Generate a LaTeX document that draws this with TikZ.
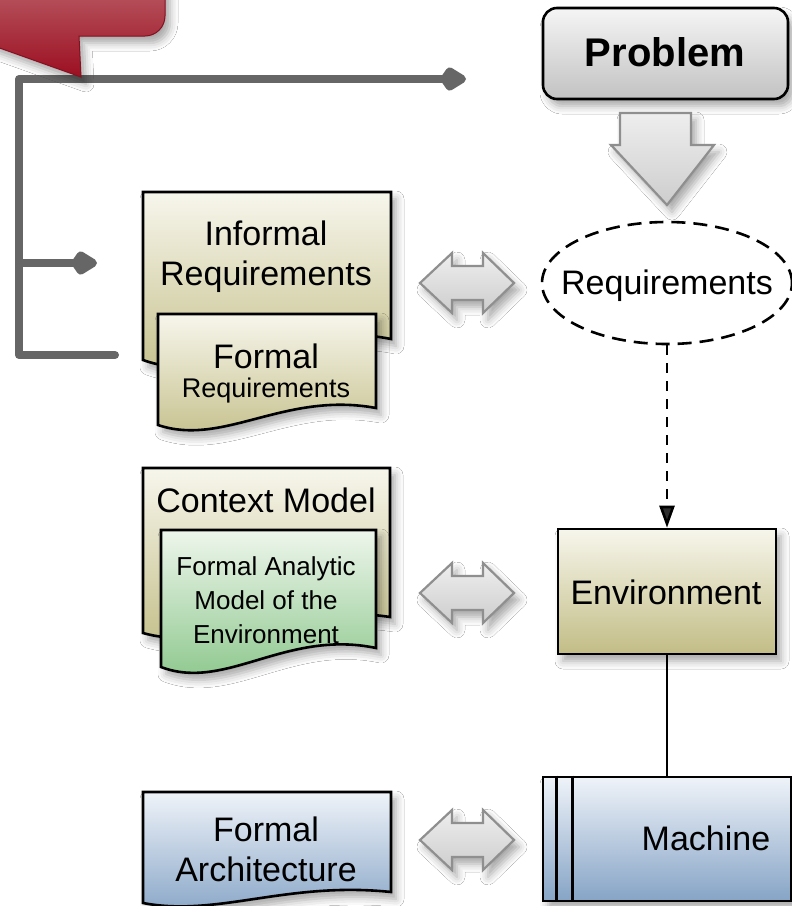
\documentclass[tikz,border=0pt]{standalone}
\usepackage{fontspec}
\setmainfont{Liberation Sans}
\usetikzlibrary{arrows.meta,shapes.geometric,shadows.blur,calc}

\definecolor{olivetop}{HTML}{F7F6EC}
\definecolor{olivebot}{HTML}{C2BD86}
\definecolor{greentop}{HTML}{EEF6EC}
\definecolor{greenbot}{HTML}{86C486}
\definecolor{bluetop}{HTML}{EFF3F9}
\definecolor{bluebot}{HTML}{86A4C6}
\definecolor{greytop}{HTML}{F5F5F5}
\definecolor{greybot}{HTML}{C2C2C2}
\definecolor{arrowline}{HTML}{8F8F8F}
\definecolor{arrowtop}{HTML}{EEEEEE}
\definecolor{arrowbot}{HTML}{CDCDCD}
\definecolor{bracket}{HTML}{666666}
\definecolor{redtop}{HTML}{B95C64}
\definecolor{redbot}{HTML}{9C0F22}
\definecolor{redline}{HTML}{85101F}

\tikzset{
  softshadow/.style={blur shadow={shadow xshift=5pt,shadow yshift=-7pt,
      shadow blur radius=8pt,shadow opacity=35}},
  boxline/.style={draw=black,line width=2.6pt},
  olivefill/.style={top color=olivetop,bottom color=olivebot},
  greenfill/.style={top color=greentop,bottom color=greenbot},
  bluefill/.style={top color=bluetop,bottom color=bluebot},
  txt/.style={inner sep=0pt,align=center,text=black},
  big/.style={txt,font=\fontsize{34}{40}\selectfont},
  small/.style={txt,font=\fontsize{27}{33}\selectfont},
  smaller/.style={txt,font=\fontsize{26}{34}\selectfont},
  greyline/.style={draw=bracket,line width=8pt,line cap=round,line join=round},
  kitetip/.style={-{Kite[length=30pt,width=26pt,inset=9pt,line join=round]}},
  blockarrow/.style={softshadow,draw=arrowline,line width=2.2pt,
      top color=arrowtop,bottom color=arrowbot,line join=miter},
  dblarrow/.pic={
    \path[blockarrow] (-47,0) -- (-15,-30) -- (-15,-17) -- (16,-17)
      -- (16,-30) -- (47,0) -- (16,30) -- (16,17) -- (-15,17)
      -- (-15,30) -- cycle;
  },
}

% document shape: flat top, wavy bottom (left end lower than right end)
\newcommand\docshape[6]{%
  \pgfmathsetmacro\docW{#4-#2}%
  \pgfmathsetmacro\docD{#5-#6}%
  \pgfmathsetmacro\docAx{#2+0.3*\docW}%
  \pgfmathsetmacro\docAy{#5+1.3*\docD}%
  \pgfmathsetmacro\docBx{#2+0.58*\docW}%
  \pgfmathsetmacro\docBy{#6-1.0*\docD}%
  \path[#1] (#2,#3) -- (#4,#3) -- (#4,#6)
    .. controls (\docBx,\docBy) and (\docAx,\docAy) .. (#2,#5) -- cycle;}

\begin{document}
\begin{tikzpicture}[x=1pt,y=-1pt]
\fill[white] (0,0) rectangle (792,906);
\useasboundingbox (0,0) rectangle (792,906);

% grey bracket with its branches
\coordinate (topTip) at (466,79);
\coordinate (midTip) at (97,263);
\coordinate (lowEnd) at (115,355);
\coordinate (spineTop) at (19,79);
\coordinate (spineMid) at (19,263);
\coordinate (spineLow) at (19,355);
\draw[greyline,kitetip] (lowEnd) -- (spineLow) -- (spineTop) -- (topTip);
\draw[greyline,kitetip] (spineMid) -- (midTip);

% red callout in the corner
\path[softshadow,draw=redline,line width=1pt,top color=redtop,bottom color=redbot]
  (-20,-20) -- (165,-20) -- (165,16) arc[start angle=0,end angle=90,radius=20]
  -- (79,36) -- (81,77) -- (-20,41) -- cycle;

% problem and requirements (right column)
\node[softshadow,boxline,rounded corners=14pt,top color=greytop,bottom color=greybot,
      minimum width=245pt,minimum height=91pt,inner sep=0pt] (prob) at (665.5,53.5) {};
\node[txt,font=\fontsize{40}{44}\selectfont\bfseries] (probtxt) at (665,52) {Problem};

\path[blockarrow] (620,113) -- (691,113) -- (691,145) -- (714,145) -- (667,205)
  -- (611,145) -- (620,145) -- cycle;

\node[ellipse,draw=black,line width=2.6pt,dash pattern=on 14pt off 8pt,fill=white,
      minimum width=250pt,minimum height=122pt,inner sep=0pt] (req) at (667,283) {};
\node[big] (reqtxt) at (667,286) {Requirements};

\node[softshadow,boxline,olivefill,minimum width=218pt,minimum height=125pt,
      inner sep=0pt] (env) at (667,591.5) {};
\node[big] (envtxt) at (666,592) {Environment};

\node[softshadow,boxline,bluefill,minimum width=248pt,minimum height=124pt,
      inner sep=0pt] (mach) at (667,839) {};
\draw[line width=2.6pt] ($(mach.north west)+(15,0)$) -- ($(mach.south west)+(15,0)$);
\draw[line width=2.6pt] ($(mach.north west)+(31,0)$) -- ($(mach.south west)+(31,0)$);
\node[big] (machtxt) at (706,838) {Machine};

\draw[line width=2.6pt,dash pattern=on 10pt off 8pt,
      -{Triangle[length=22pt,width=15pt]}] (req.south) -- (env.north);
\draw[line width=2.6pt] (env.south) -- (mach.north);

% documents (left column)
\docshape{softshadow,boxline,olivefill}{143}{192}{391}{360}{339}
\node[big] (ireq) at (266,257) {Informal\\Requirements};
\docshape{softshadow,boxline,olivefill}{158}{314}{376}{425}{408}
\node[big] (freqA) at (266,356) {Formal};
\node[small] (freqB) at (266,391) {Requirements};

\docshape{softshadow,boxline,olivefill}{143}{468}{390}{633}{617}
\node[big] (ctx) at (266,500) {Context Model};
\docshape{softshadow,boxline,greenfill}{161}{530}{376}{667}{648}
\node[smaller] (fam) at (266,600) {Formal Analytic\\Model of the\\Environment};

\docshape{softshadow,boxline,bluefill}{143}{792}{391}{903}{892}
\node[big] (farch) at (266,849) {Formal\\Architecture};

% two-way correspondence arrows
\pic at (467,283) {dblarrow};
\pic at (467,593) {dblarrow};
\pic at (467,840) {dblarrow};
\end{tikzpicture}
\end{document}
